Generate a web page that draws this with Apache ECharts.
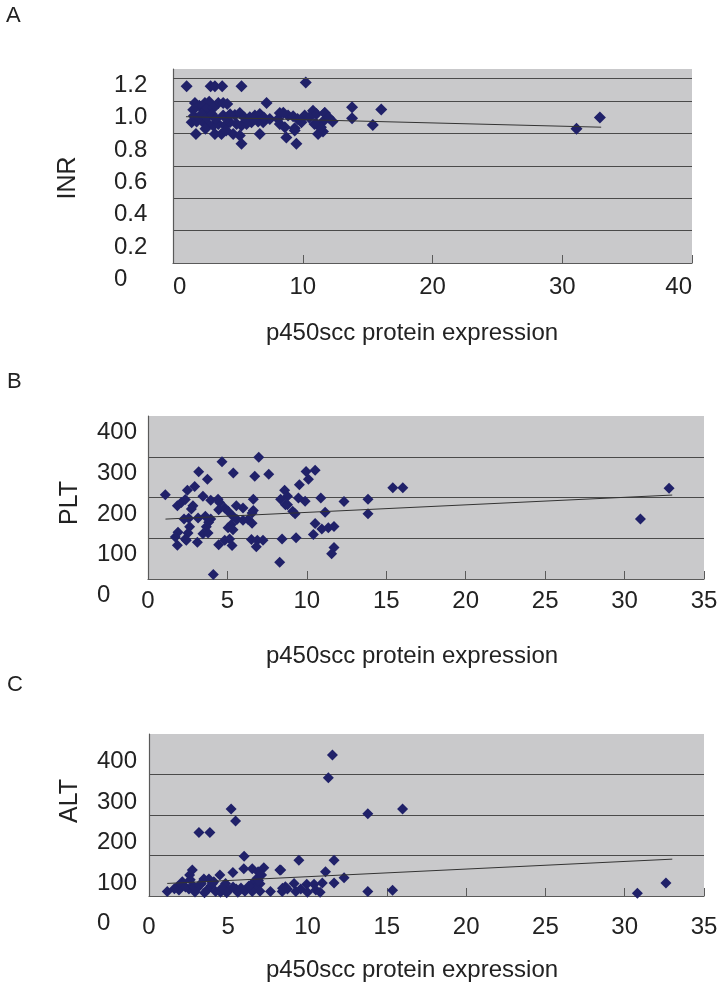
<!DOCTYPE html>
<html><head><meta charset="utf-8">
<script src="https://cdn.jsdelivr.net/npm/echarts@6/dist/echarts.min.js"></script>
<style>html,body{margin:0;padding:0;background:#fff}#c{width:723px;height:990px}</style>
</head><body><div id="c"></div>
<script>
// ---- Panel A: INR vs p450scc ----
const inrX = [1.05,2.90,3.23,3.79,5.28,10.23, 1.69,2.03,2.46,2.79,3.49,3.87,4.18,7.21, 1.56,2.33,2.59,3.10,
  3.87,4.77,5.15,5.92,6.31,6.69,7.46,8.23,8.87,9.26,10.15,10.79,11.05,11.69,
  1.44,1.82,2.33,2.72,3.10,3.49,4.00,4.38,4.90,5.28,5.67,6.05,6.56,6.95,8.23,8.62,9.38,9.90,11.05,11.56,
  1.77,3.23,3.74,4.64,5.15,6.69,8.74,9.38,11.18,11.56, 5.28,9.51,
  11.7,12.3,11.4,13.8,13.8,16.05,15.4,
  1.6,2.0,2.2,2.6,3.0,3.3,4.2,4.4,5.5,5.8,6.2,7.0,9.6,10.5,10.9,12.0,2.5,4.1,8.1,8.5,
  31.1,32.9];
const inrY = [1.093,1.093,1.093,1.093,1.093,1.117, 0.990,0.973,0.990,0.998,0.990,0.990,0.984,0.990, 0.948,0.963,0.953,0.958,
  0.912,0.916,0.928,0.901,0.912,0.922,0.891,0.928,0.912,0.908,0.912,0.942,0.922,0.928,
  0.870,0.875,0.870,0.860,0.850,0.860,0.850,0.870,0.860,0.850,0.860,0.870,0.875,0.870,0.860,0.840,0.834,0.870,0.860,0.875,
  0.798,0.798,0.798,0.798,0.788,0.798,0.777,0.819,0.798,0.813, 0.737,0.737,
  0.928,0.875,0.840,0.963,0.895,0.949,0.854,
  0.91,0.90,0.92,0.90,0.92,0.89,0.90,0.92,0.90,0.88,0.89,0.90,0.89,0.90,0.86,0.90,0.83,0.82,0.89,0.93,
  0.83,0.90];
const inrTrendX = [1.0, 33.0];
const inrTrendY = [0.905, 0.840];
const inrExtraLine = 1.136;
const inrTicks = ['0','0.2','0.4','0.6','0.8','1.0','1.2'];
const inrXTicks = ['0','10','20','30','40'];

// ---- Panel B: PLT vs p450scc ----
const pltX = [1.09,4.66,6.97,3.19,3.74,5.37,6.72,7.6,2.94,2.48,8.6,1.85,2.1,2.35,2.83,2.73,3.46,3.95,4.41,4.51,4.45,4.83,5.04,5.56,5.98,6.63,6.63,6.55,8.35,8.65,
  2.27,2.56,3.15,3.61,3.95,3.82,5.35,5.6,5.98,6.3,6.55,5.25,5.04,5.35,2.62,3.67,1.89,2.52,3.46,3.78,1.72,2.35,1.85,2.41,3.11,4.45,4.83,5.14,5.29,6.51,6.88,6.82,7.24,8.44,8.29,4.11,
  9.95,10.52,10.1,9.53,8.78,9.47,9.89,8.78,9.11,9.26,10.88,12.34,13.85,13.85,11.15,15.41,16.04,10.52,10.94,11.35,11.71,10.41,9.32,11.71,11.56,
  31.0,32.8];
const pltY = [207,288,299,263,245,260,252,257,227,218,218,180,188,195,180,172,203,193,196,188,170,174,166,180,174,196,168,162,196,182,
  147,149,150,154,147,139,154,146,144,146,137,134,126,121,128,128,115,113,111,113,103,98,83,95,90,84,95,98,82,97,95,79,95,98,41,11,
  264,267,245,231,203,199,191,182,166,160,199,190,196,160,164,224,224,136,123,126,129,109,101,77,62,
  147,223];
const pltTrendX = [1.1, 33.0];
const pltTrendY = [147, 206];
const pltTicks = ['0','100','200','300','400'];
const pltXTicks = ['0','5','10','15','20','25','30','35'];

// ---- Panel C: ALT vs p450scc ----
const altX = [5.18,5.46,3.15,3.84,6.0,2.73,2.56,4.47,5.29,5.98,6.51,6.88,7.24,8.25,2.1,1.78,3.46,3.78,4.09,6.82,7.1,4.83,6.51,6.68,1.15,1.89,2.52,3.04,3.67,4.2,4.51,5.04,5.5,6.05,6.51,7.66,8.4,8.6,
  2.0,2.3,2.8,3.3,3.9,4.6,5.3,5.8,6.3,7.0,1.6,2.9,3.5,4.9,5.6,7.0,6.9,2.6,3.2,4.0,
  11.57,11.31,13.8,15.99,9.45,11.67,11.13,12.3,11.67,10.93,8.31,13.8,15.36,
  8.42,8.73,9.15,9.26,9.57,9.95,9.99,10.41,10.52,10.79,
  30.8,32.6];
const altY = [215,185,157,157,98,64,52,52,58,67,67,60,70,64,35,23,42,42,35,44,52,31,31,19,11,15,17,19,15,11,9,15,17,12,11,11,11,23,
  28,22,25,30,25,20,22,20,25,30,18,10,8,8,9,12,38,40,28,30,
  348,292,203,215,88,88,60,45,32,32,64,11,14,
  19,17,31,11,17,29,9,29,15,9,
  7,32];
const altTrendX = [1.15, 33.0];
const altTrendY = [31, 91];
const altTicks = ['0','100','200','300','400'];
const altXTicks = ['0','5','10','15','20','25','30','35'];

const xTitle = 'p450scc protein expression';

// ---- styling ----
const FONT = 'Liberation Sans, Arial, sans-serif';
const TXT = '#222';
const MARK = '#202169';
const GRIDC = '#4a4a4a';
const AXC = '#5a5a5a';

const zip = (xs, ys) => xs.map((x, i) => [x, ys[i]]);

const grids = [
  {left:173, top:69, width:519, height:194},
  {left:148, top:416, width:556, height:163},
  {left:149, top:734, width:555, height:162}
];
grids.forEach(g => { g.show = true; g.backgroundColor = '#c9c9cb'; g.borderWidth = 0; });

function xAx(i, max, interval, ticks, margin, edgeAlign) {
  return {
    type:'value', gridIndex:i, min:0, max:max, interval:interval,
    axisLine:{show:true, onZero:false, lineStyle:{color:AXC, width:1.2}},
    axisTick:{show:true, inside:true, length:8, lineStyle:{color:AXC, width:1}},
    splitLine:{show:false},
    axisLabel:{fontFamily:FONT, fontSize:24, color:TXT, margin:margin,
      alignMinLabel: edgeAlign ? 'left' : 'center', alignMaxLabel: edgeAlign ? 'right' : 'center',
      formatter: v => ticks[Math.round(v / interval)]}
  };
}
// Two y axes per grid: the main one draws the grid lines and every other label,
// the second (no lines) draws the remaining labels. Labels sit `shift` px below their gridline.
function tickVals(max, interval, parity) {
  const out = [];
  const n = Math.round(max / interval);
  for (let k = 0; k <= n; k++) if (k % 2 === parity) out.push(+(k * interval).toFixed(6));
  return out;
}
function yAx(i, max, interval, ticks, margin, shift, main) {
  const n = Math.round(max / interval);
  return {
    type:'value', gridIndex:i, min:0, max:max, interval:interval, position:'left', offset:0,
    axisLine:{show:main, lineStyle:{color:AXC, width:1.2}},
    axisTick:{show:false},
    splitLine:{show:main, showMaxLine:false, showMinLine:false, lineStyle:{color:GRIDC, width:1.2}},
    axisLabel:{fontFamily:FONT, fontSize:24, color:TXT, margin:margin, align:'left',
      verticalAlign:'top', lineHeight: shift*2,
      customValues: tickVals(max, interval, main ? (n % 2) : 1 - (n % 2)),
      formatter: v => ticks[Math.round(v / interval)]}
  };
}

function scatter(i, data, size, extra) {
  const s = {type:'scatter', xAxisIndex:i, yAxisIndex:i, data:data, symbol:'diamond',
    symbolSize:size, itemStyle:{color:MARK, opacity:1}, silent:true, z:3};
  if (extra != null) {
    s.markLine = {silent:true, symbol:['none','none'], label:{show:false},
      lineStyle:{color:GRIDC, width:1.2, type:'solid'}, data:[{yAxis:extra}], animation:false};
  }
  return s;
}
function trend(i, xs, ys) {
  return {type:'line', xAxisIndex:i, yAxisIndex:i, data:zip(xs, ys), symbol:'none',
    lineStyle:{color:'#333', width:1}, silent:true, z:4};
}

function txt(text, x, y, size, rot) {
  return {type:'text', x:x, y:y, rotation: rot || 0,
    style:{text:text, font: size + 'px ' + FONT, fill:TXT, align:'center', verticalAlign:'middle'}};
}
function txtL(text, x, y, size) {
  return {type:'text', x:x, y:y,
    style:{text:text, font: size + 'px ' + FONT, fill:TXT, align:'left', verticalAlign:'middle'}};
}

const chart = echarts.init(document.getElementById('c'), null, {renderer:'canvas'});
chart.setOption({
  animation:false,
  backgroundColor:'#ffffff',
  grid: grids,
  xAxis: [
    xAx(0, 40, 10, inrXTicks, 12, true),
    xAx(1, 35, 5, pltXTicks, 10, false),
    xAx(2, 35, 5, altXTicks, 19, false)
  ],
  yAxis: [
    yAx(0, 1.2, 0.2, inrTicks, 59, 16.5, true),
    yAx(1, 400, 100, pltTicks, 51, 16.5, true),
    yAx(2, 400, 100, altTicks, 52, 27.5, true),
    yAx(0, 1.2, 0.2, inrTicks, 59, 16.5, false),
    yAx(1, 400, 100, pltTicks, 51, 16.5, false),
    yAx(2, 400, 100, altTicks, 52, 27.5, false)
  ],
  series: [
    scatter(0, zip(inrX, inrY), 12, inrExtraLine),
    trend(0, inrTrendX, inrTrendY),
    scatter(1, zip(pltX, pltY), 11),
    trend(1, pltTrendX, pltTrendY),
    scatter(2, zip(altX, altY), 11),
    trend(2, altTrendX, altTrendY)
  ],
  graphic: [
    txtL('A', 6, 16, 22),
    txtL('B', 7, 382, 22),
    txtL('C', 7, 685, 22),
    txt('INR', 68, 178, 25, Math.PI/2),
    txt('PLT', 70, 503, 25, Math.PI/2),
    txt('ALT', 70, 801, 25, Math.PI/2),
    txt(xTitle, 412, 333, 24),
    txt(xTitle, 412, 656, 24),
    txt(xTitle, 412, 970, 24)
  ]
});
</script>
</body></html>
